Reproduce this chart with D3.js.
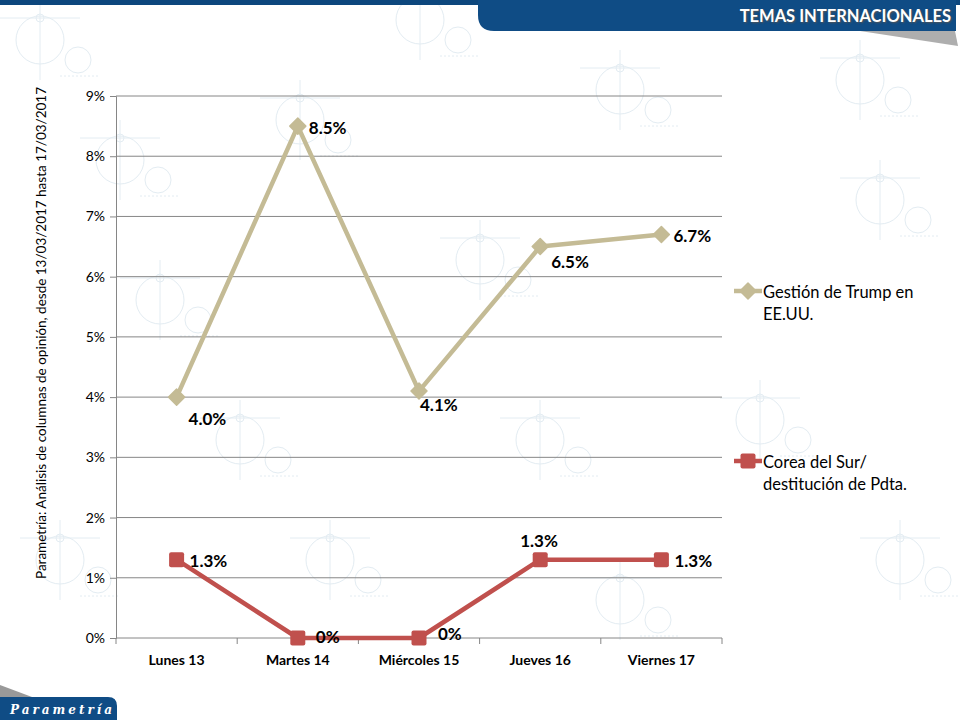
<!DOCTYPE html>
<html>
<head>
<meta charset="utf-8">
<script src="https://cdn.jsdelivr.net/npm/d3@7"></script>
<style>
  body { margin: 0; background: #fff; }
  svg { display: block; font-family: Lato, "Open Sans", sans-serif; }
</style>
</head>
<body>
<svg id="chart" width="960" height="720"></svg>
<script>
// datos del gráfico
const dias = ["Lunes 13", "Martes 14", "Miércoles 15", "Jueves 16", "Viernes 17"];
const trump = [0.040, 0.085, 0.041, 0.065, 0.067];
const corea = [0.013, 0, 0, 0.013, 0.013];
const trumpEtiquetas = ["4.0%", "8.5%", "4.1%", "6.5%", "6.7%"];
const coreaEtiquetas = ["1.3%", "0%", "0%", "1.3%", "1.3%"];
const ticksY = [0, 0.01, 0.02, 0.03, 0.04, 0.05, 0.06, 0.07, 0.08, 0.09];
const nombresSerie = [["Gestión de Trump en", "EE.UU."], ["Corea del Sur/", "destitución de Pdta."]];

const svg = d3.select("#chart");
const colTrump = "#c4bb95", colCorea = "#c0504d";

// fondo de marca de agua (decorativo, muy tenue)
const wm = svg.append("g").attr("stroke", "#e3ecf2").attr("fill", "none").attr("stroke-width", 1);
const motivos = [[40,40],[300,120],[620,90],[880,200],[160,300],[480,260],[760,420],[60,560],[330,560],[620,600],[900,560],[240,440],[540,440],[860,80],[420,20],[120,160]];
motivos.forEach(([cx, cy]) => {
  const g = wm.append("g").attr("transform", `translate(${cx},${cy})`);
  g.append("circle").attr("r", 24);
  g.append("circle").attr("r", 4).attr("cy", -22);
  g.append("line").attr("x1", -40).attr("x2", 40).attr("y1", -22).attr("y2", -22);
  g.append("line").attr("x1", 0).attr("x2", 0).attr("y1", -40).attr("y2", 40);
  g.append("circle").attr("r", 13).attr("cx", 38).attr("cy", 20);
  g.append("line").attr("x1", 20).attr("x2", 60).attr("y1", 36).attr("y2", 36).attr("stroke-dasharray", "2,2");
});

// cabecera
svg.append("rect").attr("x", 0).attr("y", 0).attr("width", 960).attr("height", 5).attr("fill", "#0d477d");
svg.append("path").attr("d", "M860,31 L955,31 L958,46 Z").attr("fill", "#9a9a9a").attr("opacity", 0.8);
svg.append("path").attr("d", "M478,0 L956,0 L956,31 L494,31 Q478,31 478,15 Z").attr("fill", "#0f4c85");
svg.append("text").attr("x", 951).attr("y", 22).attr("text-anchor", "end")
  .attr("fill", "#fff").attr("font-weight", "bold").attr("font-size", 16.5)
  .attr("style", "text-shadow: 1px 1px 2px #555").text("TEMAS INTERNACIONALES");

// pie
svg.append("path").attr("d", "M0,685 L0,700 L40,700 Z").attr("fill", "#999");
svg.append("path").attr("d", "M0,697 L108,697 Q117,697 117,706 L117,720 L0,720 Z").attr("fill", "#0f4c85");
svg.append("text").attr("x", 10).attr("y", 714).attr("fill", "#fff").attr("font-size", 12)
  .attr("font-style", "italic").attr("font-weight", "bold").attr("letter-spacing", 3)
  .attr("font-family", "'DejaVu Serif', serif").text("Parametría");

// escalas
const x = d3.scalePoint().domain(dias).range([116, 722]).padding(0.5);
const y = d3.scaleLinear().domain([0, 0.09]).range([638, 96]);

// cuadrícula
svg.append("g").selectAll("line").data(ticksY.slice(1)).join("line")
  .attr("x1", 116).attr("x2", 722)
  .attr("y1", d => y(d)).attr("y2", d => y(d))
  .attr("stroke", "#868686").attr("stroke-width", 1);

// eje Y
const ejeY = svg.append("g").attr("transform", "translate(116,0)")
  .call(d3.axisLeft(y).tickValues(ticksY).tickFormat(d3.format(".0%")).tickSize(6).tickPadding(5));
ejeY.select(".domain").attr("stroke", "#868686");
ejeY.selectAll(".tick line").attr("stroke", "#868686");
ejeY.selectAll("text").attr("font-size", 14).attr("fill", "#000").attr("font-family", "Lato, sans-serif");

// eje X
const ejeX = svg.append("g").attr("transform", "translate(0,638)");
ejeX.append("line").attr("x1", 116).attr("x2", 722).attr("stroke", "#868686");
const bordes = d3.range(dias.length + 1).map(i => 116 + i * x.step());
ejeX.selectAll(".tk").data(bordes).join("line").attr("class", "tk")
  .attr("x1", d => d).attr("x2", d => d).attr("y1", 0).attr("y2", 6).attr("stroke", "#868686");
ejeX.selectAll("text").data(dias).join("text")
  .attr("x", d => x(d)).attr("y", 27).attr("text-anchor", "middle")
  .attr("font-size", 14).attr("font-weight", "bold").text(d => d);

// título del eje Y
svg.append("text").attr("transform", "translate(46,333) rotate(-90)")
  .attr("text-anchor", "middle").attr("font-size", 13.5)
  .text("Parametría: Análisis de columnas de opinión, desde 13/03/2017  hasta  17/03/2017");

// líneas
const linea = d3.line().x((d, i) => x(dias[i])).y(d => y(d));
svg.append("path").datum(trump).attr("d", linea).attr("fill", "none")
  .attr("stroke", colTrump).attr("stroke-width", 4.5).attr("stroke-linejoin", "round");
svg.append("path").datum(corea).attr("d", linea).attr("fill", "none")
  .attr("stroke", colCorea).attr("stroke-width", 4.5).attr("stroke-linejoin", "round");

// marcadores
const rombo = (g, cx, cy) => g.append("path")
  .attr("d", `M${cx},${cy - 8}L${cx + 8},${cy}L${cx},${cy + 8}L${cx - 8},${cy}Z`)
  .attr("fill", colTrump).attr("stroke", colTrump).attr("stroke-width", 1.5).attr("stroke-linejoin", "round");
const cuadro = (g, cx, cy) => g.append("rect")
  .attr("x", cx - 7.5).attr("y", cy - 7.5).attr("width", 15).attr("height", 15).attr("rx", 2)
  .attr("fill", colCorea);

const mk = svg.append("g");
trump.forEach((v, i) => rombo(mk, x(dias[i]), y(v)));
corea.forEach((v, i) => cuadro(mk, x(dias[i]), y(v)));

// etiquetas de datos
const posTrump = [[12, 28], [11, 8], [1, 20], [11, 21], [12, 7]];
const posCorea = [[13, 7], [18, 5], [19, 2], [-20, -13], [13, 7]];
const etq = svg.append("g").attr("font-size", 17).attr("font-weight", "bold");
trump.forEach((v, i) => etq.append("text")
  .attr("x", x(dias[i]) + posTrump[i][0]).attr("y", y(v) + posTrump[i][1])
  .text(trumpEtiquetas[i]));
corea.forEach((v, i) => etq.append("text")
  .attr("x", x(dias[i]) + posCorea[i][0]).attr("y", y(v) + posCorea[i][1])
  .text(coreaEtiquetas[i]));

// leyenda
const leyenda = svg.append("g").attr("font-size", 16.5);
[[291, colTrump, rombo], [461, colCorea, cuadro]].forEach(([ly, col, f], k) => {
  leyenda.append("line").attr("x1", 734).attr("x2", 762).attr("y1", ly).attr("y2", ly)
    .attr("stroke", col).attr("stroke-width", 4.5);
  f(leyenda, 748, ly);
  nombresSerie[k].forEach((t, j) => leyenda.append("text")
    .attr("x", 763).attr("y", ly + 7 + j * 22).text(t));
});
</script>
</body>
</html>
